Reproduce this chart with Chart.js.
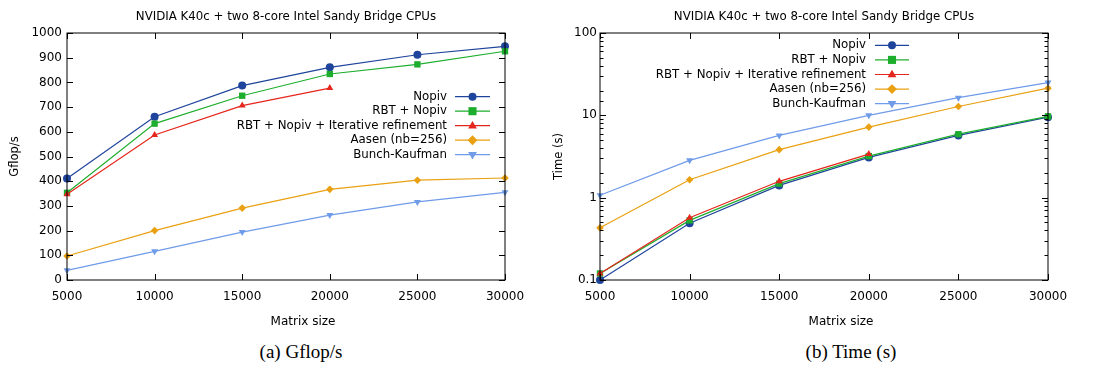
<!DOCTYPE html>
<html>
<head>
<meta charset="utf-8">
<script src="https://cdn.jsdelivr.net/npm/chart.js@4/dist/chart.umd.min.js"></script>
<style>
  body { margin: 0; background: #fff; width: 1094px; height: 367px; position: relative; overflow: hidden; }
  canvas { position: absolute; top: 0; }
  #gflopsChart { left: 0; }
  #timeChart { left: 547px; }
  .caption { position: absolute; top: 341px; width: 300px; text-align: center;
    font-family: "Liberation Serif", "DejaVu Serif", serif; font-size: 19px; color: #000; }
</style>
</head>
<body>
<canvas id="gflopsChart" width="547" height="330"></canvas>
<canvas id="timeChart" width="547" height="330"></canvas>
<div class="caption" style="left:151px">(a) Gflop/s</div>
<div class="caption" style="left:701px">(b) Time (s)</div>
<script>
// === Data ===
const sizes = [5000, 10000, 15000, 20000, 25000, 30000];
const seriesNames = ['Nopiv', 'RBT + Nopiv', 'RBT + Nopiv + Iterative refinement', 'Aasen (nb=256)', 'Bunch-Kaufman'];
const chartTitle = 'NVIDIA K40c + two 8-core Intel Sandy Bridge CPUs';
const xTitle = 'Matrix size';

const gflopsNopiv = [411, 661, 787, 861, 912, 946];
const gflopsRbt = [353, 633, 746, 834, 873, 926];
const gflopsRbtIr = [347, 587, 706, 777];
const gflopsAasen = [97, 200, 291, 367, 404, 413];
const gflopsBk = [39, 116, 194, 263, 316, 355];

const timeNopiv = [0.10, 0.49, 1.41, 3.08, 5.7, 9.5];
const timeRbt = [0.12, 0.53, 1.48, 3.2, 5.9, 9.7];
const timeRbtIr = [0.12, 0.57, 1.58, 3.38];
const timeAasen = [0.43, 1.65, 3.83, 7.2, 12.8, 21.4];
const timeBk = [1.07, 2.84, 5.7, 10, 16.4, 25];

const gflopsTicks = [0, 100, 200, 300, 400, 500, 600, 700, 800, 900, 1000];
const timeTicks = [0.1, 1, 10, 100];

// === Styles ===
const colors = ['#1f449c', '#1eae2e', '#e5261c', '#e9a012', '#6f9be8'];
const shapes = ['circle', 'rect', 'triangle', 'rectRot', 'triangle'];
const sizesPt = [4, 4.5, 4, 3.8, 4];
const rotations = [0, 0, 0, 0, 180];
const FONT = 'DejaVu Sans';

function makeDatasets(lists) {
  return lists.map((vals, i) => ({
    label: seriesNames[i],
    data: vals.map((v, j) => ({ x: sizes[j], y: v })),
    borderColor: colors[i],
    backgroundColor: colors[i],
    borderWidth: 1.2,
    pointStyle: shapes[i],
    pointRadius: sizesPt[i],
    pointRotation: rotations[i],
    pointBorderWidth: 0,
    clip: false,
    order: 4 - i,
    tension: 0
  }));
}

// simple legend marker, gnuplot style: line sample with symbol in the middle
function drawMarker(ctx, shape, r, rot, x, y) {
  ctx.beginPath();
  if (shape === 'circle') {
    ctx.arc(x, y, r, 0, Math.PI * 2);
  } else if (shape === 'rect') {
    ctx.rect(x - r * 0.9, y - r * 0.9, 1.8 * r, 1.8 * r);
  } else if (shape === 'rectRot') {
    ctx.moveTo(x, y - r * 1.3); ctx.lineTo(x + r * 1.3, y);
    ctx.lineTo(x, y + r * 1.3); ctx.lineTo(x - r * 1.3, y);
  } else {
    const s = rot ? -1 : 1;
    ctx.moveTo(x, y - s * r * 1.2);
    ctx.lineTo(x + r * 1.1, y + s * r * 0.7);
    ctx.lineTo(x - r * 1.1, y + s * r * 0.7);
  }
  ctx.closePath();
  ctx.fill();
}

// title, x-axis label and key, placed like the gnuplot original
const keyPlugin = {
  id: 'gnuKey',
  afterDraw(chart, args, opts) {
    const ctx = chart.ctx;
    const a = chart.chartArea;
    const mid = (a.left + a.right) / 2;
    ctx.save();
    ctx.fillStyle = '#000';
    ctx.textBaseline = 'middle';
    ctx.textAlign = 'center';
    ctx.font = '11.8px "' + FONT + '"';
    ctx.fillText(chartTitle, mid, 16.5);
    ctx.font = '12px "' + FONT + '"';
    ctx.fillText(xTitle, mid + 17, 321.5);

    ctx.font = '11.8px "' + FONT + '"';
    ctx.textAlign = 'right';
    chart.data.datasets.forEach((ds, i) => {
      const y = opts.y0 + i * opts.dy;
      ctx.fillStyle = '#000';
      ctx.fillText(ds.label, opts.textRight, y);
      ctx.strokeStyle = ds.borderColor;
      ctx.lineWidth = 1.2;
      ctx.beginPath();
      ctx.moveTo(opts.x1, y);
      ctx.lineTo(opts.x2, y);
      ctx.stroke();
      ctx.fillStyle = ds.borderColor;
      drawMarker(ctx, ds.pointStyle, ds.pointRadius, ds.pointRotation, (opts.x1 + opts.x2) / 2, y);
    });
    ctx.restore();
  }
};

// frame + inward ticks on all four sides
const framePlugin = {
  id: 'gnuFrame',
  afterDatasetsDraw(chart) {
    const ctx = chart.ctx;
    const a = chart.chartArea;
    ctx.save();
    ctx.strokeStyle = '#000';
    ctx.lineWidth = 1;
    ctx.strokeRect(a.left, a.top, a.right - a.left, a.bottom - a.top);
    const xs = chart.scales.x;
    xs.ticks.forEach(t => {
      const px = Math.round(xs.getPixelForValue(t.value)) + 0.5;
      ctx.beginPath();
      ctx.moveTo(px, a.bottom); ctx.lineTo(px, a.bottom - 6);
      ctx.moveTo(px, a.top); ctx.lineTo(px, a.top + 6);
      ctx.stroke();
    });
    const ys = chart.scales.y;
    ys.ticks.forEach(t => {
      const py = Math.round(ys.getPixelForValue(t.value)) + 0.5;
      let len = 6;
      if (ys.type === 'logarithmic') {
        const l = Math.log10(t.value);
        if (Math.abs(l - Math.round(l)) > 1e-9) len = 3.5;
      }
      ctx.beginPath();
      ctx.moveTo(a.left, py); ctx.lineTo(a.left + len, py);
      ctx.moveTo(a.right, py); ctx.lineTo(a.right - len, py);
      ctx.stroke();
    });
    ctx.restore();
  }
};

function baseOptions(yWidth, padRight, yTitle, yTitlePad, yScale, key) {
  return {
    responsive: false,
    animation: false,
    devicePixelRatio: 1,
    layout: { padding: { left: 0, right: padRight, top: 33, bottom: 0 } },
    plugins: {
      legend: { display: false },
      tooltip: { enabled: false },
      title: { display: false },
      gnuKey: key
    },
    scales: {
      x: {
        type: 'linear',
        min: 5000, max: 30000,
        afterFit(s) { s.height = 50; },
        afterBuildTicks(s) { s.ticks = sizes.map(v => ({ value: v })); },
        grid: { display: false, drawTicks: false },
        border: { display: false },
        ticks: { color: '#000', font: { family: FONT, size: 12 }, padding: 10, maxRotation: 0,
          callback(v) { return String(v); } },
        title: { display: false }
      },
      y: Object.assign({
        afterFit(s) { s.width = yWidth; },
        grid: { display: false, drawTicks: false },
        border: { display: false },
        title: { display: true, text: yTitle, color: '#000', font: { family: FONT, size: 11.5 }, padding: { top: yTitlePad, bottom: 0 } }
      }, yScale)
    }
  };
}

new Chart(document.getElementById('gflopsChart'), {
  type: 'line',
  data: { datasets: makeDatasets([gflopsNopiv, gflopsRbt, gflopsRbtIr, gflopsAasen, gflopsBk]) },
  options: baseOptions(67, 42, 'Gflop/s', 8, {
    type: 'linear',
    min: 0, max: 1000,
    afterBuildTicks(s) { s.ticks = gflopsTicks.map(v => ({ value: v })); },
    ticks: { color: '#000', font: { family: FONT, size: 12 }, padding: 5, callback(v) { return String(v); } }
  }, { textRight: 447, x1: 455, x2: 490, y0: 96.7, dy: 14.5 }),
  plugins: [framePlugin, keyPlugin]
});

new Chart(document.getElementById('timeChart'), {
  type: 'line',
  data: { datasets: makeDatasets([timeNopiv, timeRbt, timeRbtIr, timeAasen, timeBk]) },
  options: baseOptions(53, 46, 'Time (s)', 5, {
    type: 'logarithmic',
    min: 0.1, max: 100,
    ticks: {
      color: '#000', font: { family: FONT, size: 12 }, padding: 3, autoSkip: false,
      callback(v) { return timeTicks.some(t => Math.abs(t - v) / t < 1e-9) ? String(v) : ''; }
    }
  }, { textRight: 319, x1: 328, x2: 362, y0: 45.3, dy: 14.6 }),
  plugins: [framePlugin, keyPlugin]
});
</script>
</body>
</html>
